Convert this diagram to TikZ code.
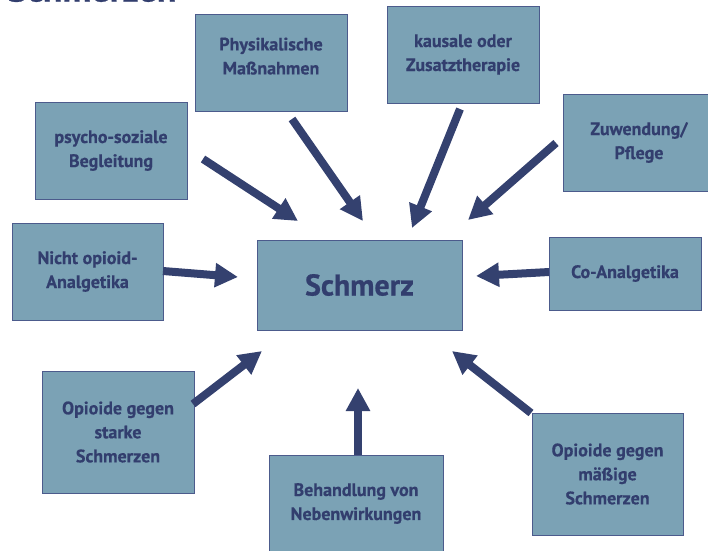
\documentclass[tikz,border=0pt]{standalone}
\usepackage{fontspec}
\setmainfont{PT Sans}[BoldFeatures={FakeBold=0.6}]
\usetikzlibrary{arrows.meta}
\definecolor{boxfill}{HTML}{7BA2B5}
\definecolor{boxline}{HTML}{4C5B8C}
\definecolor{navy}{HTML}{323E6E}
\definecolor{arrowc}{HTML}{34416F}
\begin{document}
\begin{tikzpicture}[x=1pt,y=-1pt,
  box/.style={draw=boxline, line width=1pt, fill=boxfill, text=navy,
    font=\bfseries\fontsize{18}{24}\selectfont, align=center, inner sep=0pt},
  arr/.style={draw=arrowc, line width=8pt, -{Triangle[width=23pt,length=23pt]}}]
\useasboundingbox (0,0) rectangle (708,550);
\node[anchor=base west, text=navy, font=\bfseries\fontsize{36}{40}\selectfont, inner sep=0pt] (title) at (8,1.5) {Schmerzen};

\node[box, minimum width=205pt, minimum height=90pt, font=\bfseries\fontsize{30}{32}\selectfont] (center) at (359.5,285) {Schmerz};
\node[box, minimum width=152pt, minimum height=97pt] (phys) at (271,62.5) {Physikalische\\Maßnahmen\\[-11pt]};
\node[box, minimum width=152pt, minimum height=97pt] (kaus) at (463,54.5) {kausale oder\\Zusatztherapie};
\node[box, minimum width=152pt, minimum height=97pt] (psy) at (111,150.5) {psycho-soziale\\Begleitung};
\node[box, minimum width=152pt, minimum height=97pt] (zuw) at (639,142.5) {Zuwendung/\\Pflege};
\node[box, minimum width=151pt, minimum height=97pt] (nop) at (87.5,271.5) {Nicht opioid-\\Analgetika};
\node[box, minimum width=152pt, minimum height=73pt] (co) at (625,273.5) {Co-Analgetika};
\node[box, minimum width=152pt, minimum height=122pt] (stark) at (118,432) {Opioide gegen\\starke\\Schmerzen};
\node[box, minimum width=174pt, minimum height=97pt] (neben) at (356,503.5) {Behandlung von\\Nebenwirkungen};
\node[box, minimum width=151pt, minimum height=122pt] (mass) at (607.5,474) {Opioide gegen\\mäßige\\Schmerzen};

\coordinate (psyT) at (203,159);   \coordinate (psyH) at (298,221);
\coordinate (physT) at (292,119);  \coordinate (physH) at (363,221);
\coordinate (kausT) at (460,109);  \coordinate (kausH) at (412,228);
\coordinate (zuwT) at (556,143);   \coordinate (zuwH) at (468,220);
\coordinate (nopT) at (163,271);   \coordinate (nopH) at (238,277);
\coordinate (coT) at (549,272);    \coordinate (coH) at (476,276);
\coordinate (starkT) at (193,404); \coordinate (starkH) at (262,351);
\coordinate (nebenT) at (358,455); \coordinate (nebenH) at (358,388);
\coordinate (massT) at (531,413);  \coordinate (massH) at (452,351);

\draw[arr] (psyT) -- (psyH);
\draw[arr] (physT) -- (physH);
\draw[arr] (kausT) -- (kausH);
\draw[arr] (zuwT) -- (zuwH);
\draw[arr] (nopT) -- (nopH);
\draw[arr] (coT) -- (coH);
\draw[arr] (starkT) -- (starkH);
\draw[arr] (nebenT) -- (nebenH);
\draw[arr] (massT) -- (massH);
\end{tikzpicture}
\end{document}
